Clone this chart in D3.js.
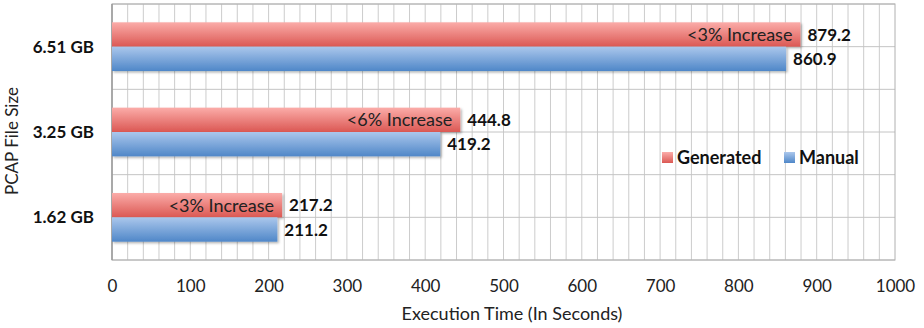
<!DOCTYPE html>
<html>
<head>
<meta charset="utf-8">
<script src="https://cdn.jsdelivr.net/npm/d3@7"></script>
<style>
  html, body { margin: 0; padding: 0; background: #fff; }
  svg { display: block; font-family: Lato, "Open Sans", sans-serif; }
</style>
</head>
<body>
<svg id="chart" width="924" height="328"></svg>
<script>
// File sizes (top to bottom) and execution times in seconds
const categories = ["6.51 GB", "3.25 GB", "1.62 GB"];
const seriesNames = ["Generated", "Manual"];
const generated = [879.2, 444.8, 217.2];
const manual = [860.9, 419.2, 211.2];
const increaseNotes = ["<3% Increase", "<6% Increase", "<3% Increase"];
const xTicks = [0, 100, 200, 300, 400, 500, 600, 700, 800, 900, 1000];

const svg = d3.select("#chart");
const plotLeft = 112, plotRight = 895, plotTop = 4, plotBottom = 260;

const x = d3.scaleLinear().domain([0, 1000]).range([plotLeft, plotRight]);
const y = d3.scaleBand().domain(categories).range([plotTop, plotBottom]).padding(0);
const groupH = 48.7;
const ySeries = d3.scaleBand().domain(seriesNames)
  .range([(y.bandwidth() - groupH) / 2, (y.bandwidth() + groupH) / 2]).padding(0);

const defs = svg.append("defs");
function grad(id, c0, c1) {
  const g = defs.append("linearGradient").attr("id", id)
    .attr("x1", 0).attr("y1", 0).attr("x2", 0).attr("y2", 1);
  g.append("stop").attr("offset", "0%").attr("stop-color", c0);
  g.append("stop").attr("offset", "100%").attr("stop-color", c1);
}
grad("gRed", "#fbaca9", "#db5853");
grad("gBlue", "#abc7ec", "#4f87c8");
const f = defs.append("filter").attr("id", "shadow")
  .attr("x", "-5%").attr("y", "-20%").attr("width", "115%").attr("height", "160%");
f.append("feDropShadow").attr("dx", 1.5).attr("dy", 1.5)
  .attr("stdDeviation", 1).attr("flood-color", "#000").attr("flood-opacity", 0.3);

// Grid: vertical every 20 s, horizontal at band edges and centers
const grid = svg.append("g");
grid.selectAll("line.v").data(d3.range(20, 1000, 20)).join("line")
  .attr("x1", d => x(d)).attr("x2", d => x(d))
  .attr("y1", plotTop).attr("y2", plotBottom)
  .attr("stroke", "#cccccc").attr("stroke-width", 1);
const hLines = [];
categories.forEach(c => { hLines.push(y(c)); hLines.push(y(c) + y.bandwidth() / 2); });
hLines.push(plotBottom);
grid.selectAll("line.h").data(hLines).join("line")
  .attr("x1", plotLeft).attr("x2", plotRight)
  .attr("y1", d => d).attr("y2", d => d)
  .attr("stroke", "#c4c4c4").attr("stroke-width", 1);
// plot frame
svg.append("rect").attr("x", plotLeft).attr("y", plotTop)
  .attr("width", plotRight - plotLeft).attr("height", plotBottom - plotTop)
  .attr("fill", "none").attr("stroke", "#b0b0b0").attr("stroke-width", 1);
svg.append("line").attr("x1", plotLeft).attr("x2", plotLeft).attr("y1", plotTop).attr("y2", plotBottom)
  .attr("stroke", "#9a9a9a").attr("stroke-width", 1.5);

// Bars
const rows = categories.map((c, i) => ({ c, i, Generated: generated[i], Manual: manual[i] }));
const groups = svg.append("g").selectAll("g").data(rows).join("g")
  .attr("transform", d => `translate(0,${y(d.c)})`);

groups.selectAll("rect").data(d => seriesNames.map(s => ({ s, v: d[s] }))).join("rect")
  .attr("x", x(0))
  .attr("y", d => ySeries(d.s))
  .attr("width", d => x(d.v) - x(0))
  .attr("height", ySeries.bandwidth())
  .attr("fill", d => d.s === "Generated" ? "url(#gRed)" : "url(#gBlue)")
  .attr("filter", "url(#shadow)");

// Value labels
groups.selectAll("text.val").data(d => seriesNames.map(s => ({ s, v: d[s] }))).join("text")
  .attr("class", "val")
  .attr("x", d => x(d.v) + 7)
  .attr("y", d => ySeries(d.s) + ySeries.bandwidth() / 2)
  .attr("dy", "0.36em")
  .attr("font-size", 17).attr("font-weight", "bold").attr("fill", "#111")
  .text(d => d.v.toFixed(1));

// Increase notes inside the generated bars
groups.append("text")
  .attr("x", d => x(d.Generated) - 8)
  .attr("y", ySeries("Generated") + ySeries.bandwidth() / 2)
  .attr("dy", "0.36em")
  .attr("text-anchor", "end")
  .attr("font-size", 18).attr("fill", "#222")
  .text(d => increaseNotes[d.i]);

// Y category labels
svg.append("g").selectAll("text").data(categories).join("text")
  .attr("x", 94).attr("y", d => y(d) + y.bandwidth() / 2)
  .attr("dy", "0.36em").attr("text-anchor", "end")
  .attr("font-size", 17).attr("font-weight", "bold").attr("fill", "#111")
  .text(d => d);

// Y title
svg.append("text")
  .attr("transform", "translate(18,141) rotate(-90)")
  .attr("text-anchor", "middle")
  .attr("font-size", 17).attr("fill", "#222")
  .text("PCAP File Size");

// X axis tick labels
const xAxis = d3.axisBottom(x).tickValues(xTicks).tickSize(0).tickPadding(0).tickFormat(d3.format("d"));
const gx = svg.append("g").attr("transform", `translate(0,${plotBottom})`).call(xAxis);
gx.select(".domain").remove();
gx.selectAll("text").attr("y", 32).attr("dy", 0)
  .attr("font-family", "Lato, 'Open Sans', sans-serif")
  .attr("font-size", 17).attr("fill", "#222");

// X title
svg.append("text")
  .attr("x", 512).attr("y", 320)
  .attr("text-anchor", "middle")
  .attr("font-size", 18).attr("fill", "#222")
  .text("Execution Time (In Seconds)");

// Legend
const legend = svg.append("g");
const legendItems = [
  { name: seriesNames[0], fill: "url(#gRed)", sx: 662, tx: 677 },
  { name: seriesNames[1], fill: "url(#gBlue)", sx: 784, tx: 799 }
];
legend.selectAll("rect").data(legendItems).join("rect")
  .attr("x", d => d.sx).attr("y", 152).attr("width", 11).attr("height", 11)
  .attr("fill", d => d.fill);
legend.selectAll("text").data(legendItems).join("text")
  .attr("x", d => d.tx).attr("y", 158).attr("dy", "0.36em")
  .attr("font-size", 18).attr("font-weight", "bold").attr("fill", "#111")
  .text(d => d.name);
</script>
</body>
</html>
